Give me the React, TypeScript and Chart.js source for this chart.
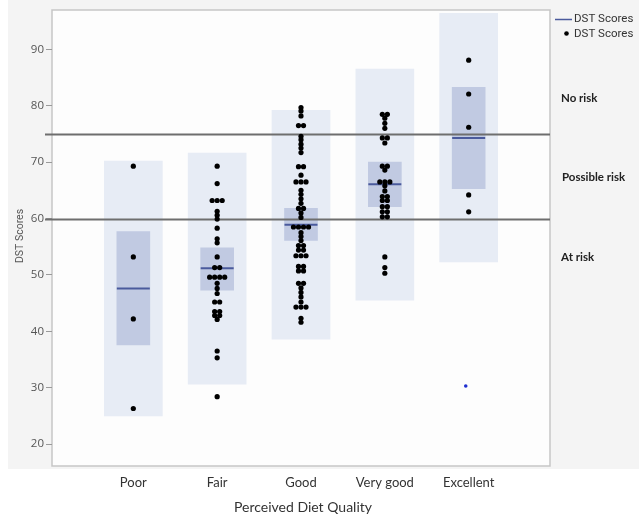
import React, { useEffect, useRef } from "react";
import { Chart, registerables } from "chart.js";

Chart.register(...registerables);

// ---- data ----
const CATEGORIES = ["Poor", "Fair", "Good", "Very good", "Excellent"];
const Y_TICKS = [20, 30, 40, 50, 60, 70, 80, 90];
const RISK_THRESHOLDS = [60, 75];
const RISK_LABELS = ["No risk", "Possible risk", "At risk"];

// outer (light) boxes
const RANGE_LOW = [25.0, 30.6, 38.6, 45.5, 52.3];
const RANGE_HIGH = [70.2, 71.6, 79.2, 86.5, 96.4];
// inner (dark) boxes
const CI_LOW = [37.6, 47.3, 56.1, 62.1, 65.3];
const CI_HIGH = [57.7, 54.8, 61.8, 70.0, 83.3];
// mean line
const MEANS = [47.6, 51.2, 58.9, 66.1, 74.3];

const POOR_SCORES = [69.3, 53.2, 42.2, 26.3];
const FAIR_SCORES = [
  69.3, 66.2, 63.2, 63.2, 63.2, 61.3, 60.6, 59.9, 58.3, 56.4, 55.7, 53.2,
  51.3, 51.3, 49.6, 49.6, 49.6, 49.6, 48.5, 47.6, 46.7, 45.2, 45.2, 43.5,
  43.5, 42.8, 42.8, 42.1, 36.5, 35.3, 28.4,
];
const GOOD_SCORES = [
  79.7, 79.1, 78.2, 76.5, 76.5, 74.6, 74.0, 73.2, 72.5, 71.7, 69.2, 69.2,
  67.7, 66.5, 66.5, 66.5, 65.0, 64.3, 63.5, 62.7, 61.8, 61.8, 61.0, 60.2,
  58.5, 58.5, 58.5, 58.5, 57.5, 56.8, 56.1, 55.2, 55.2, 54.4, 54.4, 53.4,
  53.4, 53.4, 51.5, 51.5, 50.7, 50.7, 48.5, 48.5, 47.7, 46.9, 46.1, 45.2,
  44.3, 44.3, 44.3, 42.3, 41.6,
];
const VERY_GOOD_SCORES = [
  78.5, 78.5, 77.8, 76.9, 76.0, 74.3, 74.3, 73.4, 69.3, 69.3, 68.6, 66.5,
  66.5, 66.5, 65.8, 64.9, 63.9, 63.9, 63.2, 63.2, 62.1, 62.1, 61.2, 61.2,
  60.3, 60.3, 53.2, 51.3, 50.3,
];
const EXCELLENT_SCORES = [88.1, 82.1, 76.2, 64.2, 61.2];
const STRAY_MARK = [30.3]; // small blue mark under "Excellent"

const SCORES = [POOR_SCORES, FAIR_SCORES, GOOD_SCORES, VERY_GOOD_SCORES, EXCELLENT_SCORES];

// ---- style ----
const LIGHT_BOX = "#e7ecf5";
const DARK_BOX = "#c1cae2";
const MEAN_COLOR = "#4a5a9c";
const DOT_GAP = 0.06; // horizontal spacing of tied points, in category units

function swarm(values: number[], cat: number) {
  const counts = new Map<number, number>();
  values.forEach((v) => counts.set(v, (counts.get(v) || 0) + 1));
  const seen = new Map<number, number>();
  return values.map((v) => {
    const n = counts.get(v) || 1;
    const k = seen.get(v) || 0;
    seen.set(v, k + 1);
    return { x: cat + (k - (n - 1) / 2) * DOT_GAP, y: v };
  });
}

const MEAN_INDEX = 2;

const decorPlugin = {
  id: "decor",
  beforeDraw(chart: any) {
    const { ctx, chartArea: a } = chart;
    ctx.save();
    ctx.fillStyle = "#ffffff";
    ctx.fillRect(0, 0, chart.width, chart.height);
    ctx.fillStyle = "#f4f4f4";
    ctx.fillRect(8, 0, chart.width - 8, a.bottom + 3);
    ctx.fillStyle = "#fdfdfd";
    ctx.fillRect(a.left, a.top, a.right - a.left, a.bottom - a.top);
    ctx.strokeStyle = "#c6c6c6";
    ctx.lineWidth = 1.5;
    ctx.strokeRect(a.left, a.top, a.right - a.left, a.bottom - a.top);
    ctx.restore();
  },
  afterDatasetDraw(chart: any, args: any) {
    if (args.index !== MEAN_INDEX) return;
    const { ctx, chartArea: a, scales } = chart;
    ctx.save();
    ctx.strokeStyle = "#6e6e6e";
    ctx.lineWidth = 1.8;
    RISK_THRESHOLDS.forEach((t) => {
      const y = Math.round(scales.y.getPixelForValue(t)) + 0.5;
      ctx.beginPath();
      ctx.moveTo(a.left - 7, y);
      ctx.lineTo(a.right, y);
      ctx.stroke();
    });
    ctx.restore();
  },
  afterDraw(chart: any) {
    const { ctx, chartArea: a, scales } = chart;
    ctx.save();
    // y title
    ctx.translate(20, (a.top + a.bottom) / 2 - 2);
    ctx.rotate(-Math.PI / 2);
    ctx.font = "10.5px Roboto";
    ctx.fillStyle = "#555555";
    ctx.textAlign = "center";
    ctx.textBaseline = "middle";
    ctx.fillText("DST Scores", 0, 0);
    ctx.restore();

    ctx.save();
    // x title
    ctx.font = "14px Lato";
    ctx.fillStyle = "#333333";
    ctx.textAlign = "center";
    ctx.textBaseline = "middle";
    ctx.fillText("Perceived Diet Quality", (a.left + a.right) / 2 + 2, 507);

    // risk labels
    ctx.font = "bold 11.5px Lato";
    ctx.fillStyle = "#222222";
    ctx.textAlign = "left";
    const labelY = [scales.y.getPixelForValue(81.4), scales.y.getPixelForValue(67.4), scales.y.getPixelForValue(53.2)];
    RISK_LABELS.forEach((t, i) => ctx.fillText(t, a.right + 11 + (i === 1 ? 1 : 0), labelY[i]));

    // legend
    ctx.strokeStyle = MEAN_COLOR;
    ctx.lineWidth = 1.5;
    ctx.beginPath();
    ctx.moveTo(555, 19.5);
    ctx.lineTo(572, 19.5);
    ctx.stroke();
    ctx.fillStyle = "#000000";
    ctx.beginPath();
    ctx.arc(566.5, 33.5, 2.3, 0, Math.PI * 2);
    ctx.fill();
    ctx.font = "11.5px Roboto";
    ctx.fillStyle = "#333333";
    ctx.fillText("DST Scores", 574, 19.5);
    ctx.fillText("DST Scores", 574, 34);
    ctx.restore();
  },
};

export default function App() {
  const ref = useRef<HTMLCanvasElement>(null);

  useEffect(() => {
    document.body.style.margin = "0";
    const canvas = ref.current!;
    const chart = new Chart(canvas, {
      type: "bar",
      data: {
        datasets: [
          {
            type: "bar",
            data: RANGE_LOW.map((lo, i) => ({ x: i, y: [lo, RANGE_HIGH[i]] })) as any,
            backgroundColor: LIGHT_BOX,
            barThickness: 58,
            grouped: false,
            order: 5,
          } as any,
          {
            type: "bar",
            data: CI_LOW.map((lo, i) => ({ x: i, y: [lo, CI_HIGH[i]] })) as any,
            backgroundColor: DARK_BOX,
            barThickness: 33,
            grouped: false,
            order: 4,
          } as any,
          {
            type: "scatter",
            data: MEANS.map((m, i) => ({ x: i, y: m })),
            pointStyle: "line",
            pointRadius: 16.5,
            borderColor: MEAN_COLOR,
            borderWidth: 2,
            order: 3,
          } as any,
          {
            type: "scatter",
            data: STRAY_MARK.map((v) => ({ x: 4 - 0.035, y: v })),
            pointRadius: 1.8,
            backgroundColor: "#1f2fd0",
            borderWidth: 0,
            order: 2,
          } as any,
          {
            type: "scatter",
            data: SCORES.flatMap((vals, i) => swarm(vals, i)),
            pointRadius: 2.6,
            backgroundColor: "#000000",
            borderWidth: 0,
            order: 1,
          } as any,
        ],
      },
      options: {
        responsive: false,
        animation: false,
        events: [],
        layout: { autoPadding: false, padding: { left: 0, top: 10, right: 89, bottom: 0 } },
        plugins: { legend: { display: false }, tooltip: { enabled: false } },
        scales: {
          x: {
            type: "linear",
            min: -0.97,
            max: 4.97,
            offset: false,
            grid: { display: false, drawTicks: false },
            border: { display: false },
            afterBuildTicks: (s: any) => {
              s.ticks = CATEGORIES.map((_, i) => ({ value: i }));
            },
            afterFit: (s: any) => {
              s.height = 48;
              s.paddingLeft = 0;
              s.paddingRight = 0;
            },
            ticks: {
              autoSkip: false,
              maxRotation: 0,
              padding: 9,
              color: "#333333",
              font: { family: "Lato", size: 13 },
              callback: (v: any) => CATEGORIES[Math.round(Number(v))] ?? "",
            },
          } as any,
          y: {
            type: "linear",
            min: 16.1,
            max: 97.0,
            grid: { drawOnChartArea: false, tickLength: 6, color: "#9a9a9a" },
            border: { display: false },
            afterBuildTicks: (s: any) => {
              s.ticks = Y_TICKS.map((v) => ({ value: v }));
            },
            afterFit: (s: any) => {
              s.width = 52;
              s.paddingTop = 0;
              s.paddingBottom = 0;
            },
            ticks: {
              padding: 2,
              color: "#555555",
              font: { family: "Open Sans", size: 11.5 },
            },
          } as any,
        },
      },
      plugins: [decorPlugin],
    });
    return () => chart.destroy();
  }, []);

  return (
    <div style={{ position: "fixed", left: 0, top: 0, width: 639, height: 514 }}>
      <canvas ref={ref} width={639} height={514} style={{ display: "block" }} />
    </div>
  );
}
